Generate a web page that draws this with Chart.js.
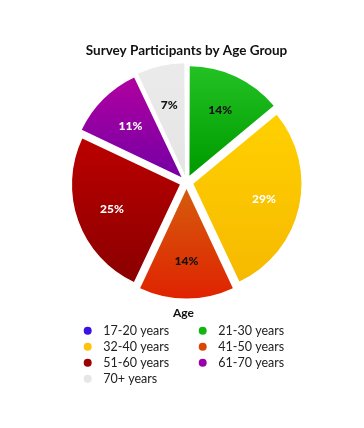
<!DOCTYPE html>
<html>
<head>
<meta charset="utf-8">
<script src="https://cdn.jsdelivr.net/npm/chart.js@4/dist/chart.umd.min.js"></script>
<style>
  html, body { margin: 0; padding: 0; background: #fff; }
  canvas { display: block; }
</style>
</head>
<body>
<canvas id="ageChart" width="364" height="428"></canvas>
<script>
// data
const ageGroups = ['17-20 years', '21-30 years', '32-40 years', '41-50 years', '51-60 years', '61-70 years', '70+ years'];
const sharePercent = [0, 14, 29, 14, 25, 11, 7];

// styling
const sliceTopColors = ['#4a1ef0', '#25c425', '#ffd000', '#d6580c', '#ba0000', '#b200a0', '#ebebeb'];
const sliceBottomColors = ['#3010d0', '#009c00', '#f6b900', '#e02000', '#8a0000', '#7800a4', '#e5e5e5'];
const legendColors = ['#3a12e4', '#12b412', '#ffc20e', '#dc4600', '#9c0000', '#9a00aa', '#e6e6e6'];
const labelColors = ['#111', '#111', '#fff', '#111', '#fff', '#fff', '#111'];
const SLICE_OFFSET = 28;
const FONT = 'Lato, "Open Sans", sans-serif';

function sliceGradient(context) {
    const chart = context.chart;
    const area = chart.chartArea;
    const i = context.dataIndex;
    if (!area || i === undefined) {
        return legendColors[i] || '#ccc';
    }
    const cx = (area.left + area.right) / 2;
    const cy = (area.top + area.bottom) / 2;
    const r = (Math.min(area.width, area.height) - SLICE_OFFSET) / 2;
    const total = sharePercent.reduce((a, b) => a + b, 0);
    const before = sharePercent.slice(0, i).reduce((a, b) => a + b, 0);
    const a0 = before / total * 2 * Math.PI - Math.PI / 2;
    const a1 = (before + sharePercent[i]) / total * 2 * Math.PI - Math.PI / 2;
    const shift = Math.sin((a0 + a1) / 2) * SLICE_OFFSET / 4;

    // vertical extent of the wedge (apex + arc)
    const ys = [cy, cy + r * Math.sin(a0), cy + r * Math.sin(a1)];
    if (a0 <= Math.PI / 2 && a1 >= Math.PI / 2) ys.push(cy + r);
    if (a0 <= -Math.PI / 2 + 1e-6 || a1 >= 1.5 * Math.PI - 1e-6) ys.push(cy - r);
    const top = Math.min(...ys) + shift;
    const bottom = Math.max(...ys) + shift;

    const g = chart.ctx.createLinearGradient(0, top, 0, Math.max(bottom, top + 1));
    g.addColorStop(0, sliceTopColors[i]);
    g.addColorStop(1, sliceBottomColors[i]);
    return g;
}

const sliceLabels = {
    id: 'sliceLabels',
    afterDatasetsDraw(chart) {
        const ctx = chart.ctx;
        const meta = chart.getDatasetMeta(0);
        ctx.save();
        ctx.font = '900 12px ' + FONT;
        ctx.textAlign = 'center';
        ctx.textBaseline = 'middle';
        meta.data.forEach((arc, i) => {
            if (!sharePercent[i]) return;
            const mid = (arc.startAngle + arc.endAngle) / 2;
            const dist = arc.outerRadius * 0.67 + SLICE_OFFSET / 4;
            ctx.fillStyle = labelColors[i];
            ctx.fillText(sharePercent[i] + '%', arc.x + Math.cos(mid) * dist, arc.y + Math.sin(mid) * dist);
        });
        ctx.restore();
    }
};

// two-column legend under the pie
const gridLegend = {
    id: 'gridLegend',
    afterDraw(chart) {
        const ctx = chart.ctx;
        ctx.save();
        ctx.textBaseline = 'middle';
        ctx.textAlign = 'center';
        ctx.fillStyle = '#111';
        ctx.font = 'bold 12px ' + FONT;
        ctx.fillText('Age', 183.5, 313.5);

        ctx.textAlign = 'left';
        ctx.font = '12.5px ' + FONT;
        chart.data.labels.forEach((label, i) => {
            const x = i % 2 === 0 ? 87.7 : 202.7;
            const y = 330.7 + Math.floor(i / 2) * 16;
            ctx.beginPath();
            ctx.arc(x, y, 4, 0, Math.PI * 2);
            ctx.fillStyle = legendColors[i];
            ctx.fill();
            ctx.fillStyle = '#222';
            ctx.fillText(label, x + 15.6, y);
        });
        ctx.restore();
    }
};

new Chart(document.getElementById('ageChart'), {
    type: 'pie',
    data: {
        labels: ageGroups,
        datasets: [{
            data: sharePercent,
            backgroundColor: sliceGradient,
            borderWidth: 0,
            offset: SLICE_OFFSET
        }]
    },
    options: {
        responsive: false,
        devicePixelRatio: 1,
        animation: false,
        layout: {
            padding: { left: 9, right: 0, top: 0, bottom: 124 }
        },
        plugins: {
            legend: { display: false },
            tooltip: { enabled: false },
            title: {
                display: true,
                text: 'Survey Participants by Age Group',
                color: '#111',
                font: { family: FONT, size: 13.5, weight: 'bold', lineHeight: 1.2 },
                padding: { top: 43, bottom: 1 }
            }
        }
    },
    plugins: [sliceLabels, gridLegend]
});
</script>
</body>
</html>
